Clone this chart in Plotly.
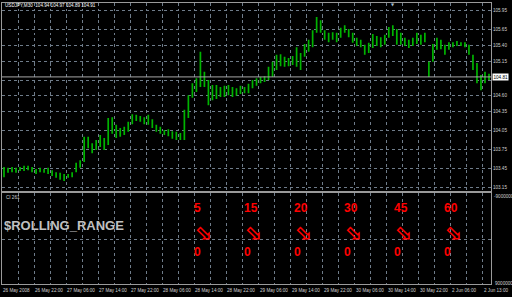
import plotly.graph_objects as go

# ---------------- data ----------------
symbol_title = "USDJPY,M30  104.94 104.97 104.89 104.91"

# hourly bars (high / low), 26 May 2008 14:00 -> 2 Jun 2008
bar_high = [103.47, 103.46, 103.47, 103.46, 103.47, 103.49, 103.49, 103.47, 103.44, 103.46,
            103.44, 103.46, 103.42, 103.39, 103.38, 103.36, 103.36, 103.39, 103.54, 103.58,
            103.95, 103.95, 103.85, 103.90, 103.98, 103.93, 104.25, 104.26, 104.14, 104.09,
            104.11, 104.19, 104.31, 104.30, 104.28, 104.26, 104.30, 104.23, 104.14, 104.11,
            104.06, 104.07, 104.04, 104.03, 104.01, 104.38, 104.61, 104.80, 104.88, 105.30,
            104.98, 104.85, 104.77, 104.77, 104.74, 104.76, 104.77, 104.74, 104.72, 104.76,
            104.74, 104.79, 104.85, 104.88, 104.90, 104.91, 105.06, 105.14, 105.25, 105.26,
            105.22, 105.20, 105.23, 105.37, 105.28, 105.42, 105.49, 105.64, 105.85, 105.80,
            105.64, 105.60, 105.61, 105.60, 105.68, 105.72, 105.66, 105.60, 105.52, 105.49,
            105.41, 105.44, 105.58, 105.55, 105.53, 105.57, 105.69, 105.72, 105.66, 105.60,
            105.52, 105.49, 105.52, 105.60, 105.57, 105.60, 105.14, 105.42, 105.52, 105.49,
            105.41, 105.45, 105.45, 105.47, 105.45, 105.45, 105.41, 105.25, 105.12, 104.93,
            104.98, 104.95]
bar_low = [103.31, 103.38, 103.39, 103.38, 103.41, 103.41, 103.42, 103.39, 103.36, 103.39,
           103.38, 103.36, 103.33, 103.30, 103.27, 103.25, 103.30, 103.31, 103.39, 103.46,
           103.55, 103.77, 103.69, 103.74, 103.79, 103.74, 103.82, 104.00, 103.93, 103.95,
           103.98, 104.03, 104.15, 104.20, 104.19, 104.15, 104.14, 104.09, 104.03, 104.00,
           103.98, 103.96, 103.92, 103.90, 103.90, 103.90, 104.25, 104.57, 104.66, 104.74,
           104.74, 104.45, 104.53, 104.55, 104.58, 104.58, 104.61, 104.58, 104.60, 104.63,
           104.64, 104.64, 104.72, 104.76, 104.80, 104.82, 104.85, 104.90, 105.01, 105.07,
           105.06, 105.07, 105.09, 105.06, 105.01, 105.22, 105.30, 105.37, 105.60, 105.60,
           105.49, 105.45, 105.49, 105.45, 105.52, 105.60, 105.53, 105.44, 105.39, 105.37,
           105.25, 105.28, 105.36, 105.39, 105.37, 105.41, 105.52, 105.55, 105.41, 105.41,
           105.39, 105.36, 105.39, 105.42, 105.41, 105.45, 104.90, 105.14, 105.33, 105.34,
           105.25, 105.33, 105.37, 105.39, 105.39, 105.37, 105.25, 105.01, 104.80, 104.69,
           104.80, 104.85]

time_labels = ["26 May 2008", "26 May 22:00", "27 May 06:00", "27 May 14:00", "27 May 22:00",
               "28 May 06:00", "28 May 14:00", "28 May 22:00", "29 May 06:00", "29 May 14:00",
               "29 May 22:00", "30 May 06:00", "30 May 14:00", "30 May 22:00", "2 Jun 06:00",
               "2 Jun 13:00"]
bars_per_label = 8
bars_per_grid = 4

price_ticks = [105.95, 105.65, 105.40, 105.15, 104.85, 104.60, 104.35, 104.05, 103.75, 103.45, 103.15]
price_tick_text = ["105.95", "105.65", "105.40", "105.15", "", "104.60", "104.35", "104.05",
                   "103.75", "103.45", "103.15"]
last_price = 104.90
last_price_label = "104.81"

indicator_name = "$ROLLING_RANGE"
subwindow_label = "CI 261"
periods = [5, 15, 20, 30, 45, 60]
period_values = [0, 0, 0, 0, 0, 0]
sub_axis_labels = ["-9000000", "9000000"]

# ---------------- figure ----------------
W, H = 512, 297
N = len(bar_high)
GRID = "#6f7c8a"
FRAME = "#9a9a9a"
TXT = "#d0d0d0"
FONT = "Liberation Sans"


def py(p):  # pixel row -> paper y
    return 1 - p / H


xs, ys = [], []
for i, (hi, lo) in enumerate(zip(bar_high, bar_low)):
    xs += [i + 0.5, i + 0.5, None]
    ys += [lo, hi, None]

fig = go.Figure()
fig.add_trace(go.Scatter(x=xs, y=ys, mode="lines", line=dict(color="#00b400", width=1.7),
                         hoverinfo="skip", showlegend=False, xaxis="x", yaxis="y"))
# invisible trace to activate lower panel
fig.add_trace(go.Scatter(x=[0], y=[0], mode="markers", marker=dict(opacity=0),
                         hoverinfo="skip", showlegend=False, xaxis="x2", yaxis="y2"))

grid_vals = list(range(bars_per_grid, N, bars_per_grid))
xdom = [2 / W, 491 / W]
common_x = dict(domain=xdom, range=[0, N], tickvals=grid_vals, showticklabels=False,
                showgrid=True, gridcolor=GRID, griddash="dot", gridwidth=1,
                showline=True, mirror=True, linecolor=FRAME, linewidth=1,
                zeroline=False, ticks="", fixedrange=True)

fig.update_layout(
    width=W, height=H, margin=dict(l=0, r=0, t=0, b=0),
    paper_bgcolor="black", plot_bgcolor="black",
    font=dict(family=FONT, color=TXT, size=5),
    xaxis=dict(anchor="y", **common_x),
    xaxis2=dict(anchor="y2", **common_x),
    yaxis=dict(domain=[py(190.5), py(2.5)], range=[103.099, 106.080], side="right",
               tickvals=price_ticks, ticktext=price_tick_text,
               tickfont=dict(size=4.6, color=TXT, family=FONT),
               showgrid=True, gridcolor=GRID, griddash="dot",
               showline=True, mirror=True, linecolor=FRAME, zeroline=False, ticks=""),
    yaxis2=dict(domain=[py(284), py(192.5)], range=[0, 1], side="right",
                tickvals=[0.49], ticktext=[""],
                showgrid=True, gridcolor=GRID, griddash="dot",
                showline=True, mirror=True, linecolor=FRAME, zeroline=False, ticks=""),
)

# bid price line + box
fig.add_shape(type="line", xref="x domain", yref="y", x0=0, x1=1, y0=last_price, y1=last_price,
              line=dict(color="#a8a8a8", width=1))
fig.add_annotation(xref="paper", yref="y", x=491.5 / W, y=last_price, xanchor="left", yanchor="middle",
                   text=last_price_label, showarrow=False, bgcolor="white",
                   font=dict(size=4.6, color="black", family=FONT), borderpad=0.5)

# chart-shift marker at top
fig.add_annotation(xref="paper", yref="paper", x=393 / W, y=1, xanchor="center", yanchor="top",
                   text="\u25bc", showarrow=False, font=dict(size=4, color="#a8c0d0", family="DejaVu Sans"))

# title
fig.add_annotation(xref="paper", yref="paper", x=3 / W, y=py(5.5), xanchor="left", yanchor="middle",
                   text=symbol_title, showarrow=False, font=dict(size=4.6, color="white", family=FONT))

# time labels
for k, lab in enumerate(time_labels):
    fig.add_annotation(xref="x2", yref="paper", x=k * bars_per_label, y=py(290.5), xanchor="left",
                       yanchor="middle", text=lab, showarrow=False, xshift=-1,
                       font=dict(size=4.6, color=TXT, family=FONT))

# subwindow axis labels
fig.add_annotation(xref="paper", yref="y2", x=492 / W, y=(284 - 196) / 91.5, xanchor="left",
                   yanchor="middle", text=sub_axis_labels[0], showarrow=False,
                   font=dict(size=4.6, color=TXT, family=FONT))
fig.add_annotation(xref="paper", yref="y2", x=493 / W, y=(284 - 283) / 91.5, xanchor="left",
                   yanchor="middle", text=sub_axis_labels[1], showarrow=False,
                   font=dict(size=4.6, color=TXT, family=FONT))

fig.add_annotation(xref="paper", yref="y2", x=4 / W, y=(284 - 197.5) / 91.5, xanchor="left",
                   yanchor="middle", text=subwindow_label, showarrow=False,
                   font=dict(size=4.6, color=TXT, family=FONT))
fig.add_annotation(xref="paper", yref="y2", x=2 / W, y=(284 - 225) / 91.5, xanchor="left",
                   yanchor="middle", text=indicator_name, showarrow=False,
                   font=dict(size=13, color="#c0c0c0", family=FONT, weight="bold"))

# indicator columns
col_start = (192.5 - 2) / 489 * N
col_step = 50 / 489 * N
for k, (p, v) in enumerate(zip(periods, period_values)):
    x0 = col_start + k * col_step
    fig.add_annotation(xref="x2", yref="y2", x=x0, y=(284 - 207.5) / 91.5, xanchor="left",
                       yanchor="middle", text=str(p), showarrow=False, borderpad=0,
                       font=dict(size=12, color="#ff0000", family=FONT, weight="bold"))
    fig.add_annotation(xref="x2", yref="y2", x=x0 + 10.5 / 489 * N, y=(284 - 232.3) / 91.5,
                       xanchor="center", yanchor="middle", text="\u2b02", showarrow=False, borderpad=0,
                       font=dict(size=21, color="#ff0000", family="DejaVu Sans", weight="bold"))
    fig.add_annotation(xref="x2", yref="y2", x=x0, y=(284 - 251.5) / 91.5, xanchor="left",
                       yanchor="middle", text=str(v), showarrow=False, borderpad=0,
                       font=dict(size=12, color="#ff0000", family=FONT, weight="bold"))

fig.write_html("out.html")
